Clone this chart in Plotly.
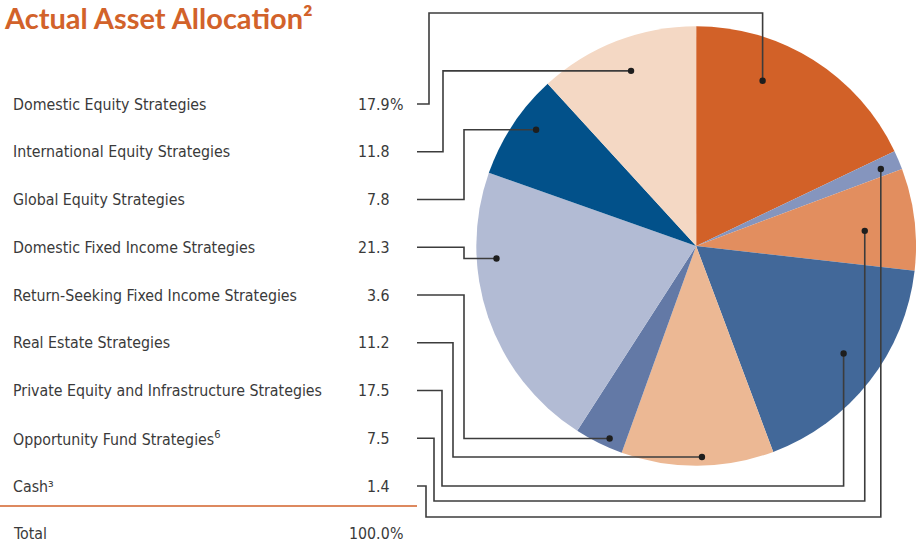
import math
import plotly.graph_objects as go

# ---------------- data ----------------
categories = [
    "Domestic Equity Strategies",
    "International Equity Strategies",
    "Global Equity Strategies",
    "Domestic Fixed Income Strategies",
    "Return-Seeking Fixed Income Strategies",
    "Real Estate Strategies",
    "Private Equity and Infrastructure Strategies",
    "Opportunity Fund Strategies<sup>6</sup>",
    "Cash³",
]
values = [17.9, 11.8, 7.8, 21.3, 3.6, 11.2, 17.5, 7.5, 1.4]
value_labels = ["17.9", "11.8", "7.8", "21.3", "3.6", "11.2", "17.5", "7.5", "1.4"]
total_label = "100.0"
title_text = "Actual Asset Allocation²"

# ---------------- styles ----------------
colors = ["#D26128", "#F4D8C4", "#02518A", "#B2BBD4", "#6379A6",
          "#ECB894", "#426899", "#E28E5F", "#8595BE"]
pie_order = [0, 8, 7, 6, 5, 4, 3, 2, 1]   # clockwise order of slices from 12 o'clock

W, H = 916, 544
TXT_FONT = "DejaVu Sans Condensed, Liberation Sans Narrow, sans-serif"
TXT_SIZE = 15.8
TXT_COLOR = "#3a3a3a"
ORANGE = "#D2622A"
LINE_COLOR = "#3c3c3c"

# pie placement (paper domain)
dom_x = [0.52, 1.0]
cy_px = 246
r_px = (dom_x[1] - dom_x[0]) * W / 2
cx_px = (dom_x[0] + dom_x[1]) / 2 * W
dom_y = [1 - (cy_px + r_px) / H, 1 - (cy_px - r_px) / H]

# table layout
label_x = 12
num_right_x = 391
row0_y = 104
row_step = 47.75
line_start_x = 417

# connector routing (table order)
elbow_x = [429, 443, 464, 464, 464, 453, 442, 434, 426]
channel_y = [13, None, None, None, None, None, 486, 501, 517]
dot_t = [0.34, 0.52, 0.59, 0.70, 0.34, 0.47, 0.47, 0.57, 0.58]
dot_rf = [0.81, 0.85, 0.90, 0.91, 0.96, 0.96, 0.83, 0.77, 0.91]


def px(x):
    return x / W


def py(y):
    return 1 - y / H


def txt(x, y, text, anchor, font):
    return dict(x=px(x), y=py(y), xref="paper", yref="paper", xanchor=anchor,
                yanchor="middle", text=text, showarrow=False, borderpad=0, font=font)


body_font = dict(family=TXT_FONT, size=TXT_SIZE, color=TXT_COLOR)

fig = go.Figure()
fig.add_trace(go.Pie(
    labels=[categories[i] for i in pie_order],
    values=[values[i] for i in pie_order],
    marker=dict(colors=[colors[i] for i in pie_order], line=dict(width=0)),
    sort=False,
    direction="clockwise",
    rotation=0,
    textinfo="none",
    hoverinfo="label+value",
    showlegend=False,
    domain=dict(x=dom_x, y=dom_y),
))

# slice angles
total = sum(values)
start_angle = {}
span_angle = {}
acc = 0.0
for i in pie_order:
    start_angle[i] = acc
    span_angle[i] = values[i] / total * 360
    acc += span_angle[i]

annotations = []
shapes = []

annotations.append(txt(3, 18, title_text, "left",
                       dict(family="Lato, sans-serif", size=29, color=ORANGE, weight="bold")))

for k, name in enumerate(categories):
    ry = row0_y + k * row_step
    annotations.append(txt(label_x, ry, name, "left", body_font))
    annotations.append(txt(num_right_x, ry, value_labels[k], "right", body_font))
    if k == 0:
        annotations.append(txt(num_right_x - 2, ry, "%", "left", body_font))

    # dot position from slice geometry
    ang = math.radians(start_angle[k] + dot_t[k] * span_angle[k])
    dx = cx_px + dot_rf[k] * r_px * math.sin(ang)
    dy = cy_px - dot_rf[k] * r_px * math.cos(ang)

    pts = [(line_start_x, ry), (elbow_x[k], ry)]
    if channel_y[k] is None:
        pts += [(elbow_x[k], dy), (dx, dy)]
    else:
        pts += [(elbow_x[k], channel_y[k]), (dx, channel_y[k]), (dx, dy)]
    path = "M " + " L ".join(f"{px(a):.5f},{py(b):.5f}" for a, b in pts)
    shapes.append(dict(type="path", path=path, xref="paper", yref="paper",
                       line=dict(color=LINE_COLOR, width=1.6)))
    rr = 3.2
    shapes.append(dict(type="circle", xref="paper", yref="paper",
                       x0=px(dx - rr), x1=px(dx + rr), y0=py(dy + rr), y1=py(dy - rr),
                       fillcolor="#1e1e1e", line=dict(width=0)))

# total row
ty = row0_y + len(categories) * row_step
annotations.append(txt(label_x, ty, "Total", "left", body_font))
annotations.append(txt(num_right_x, ty, total_label, "right", body_font))
annotations.append(txt(num_right_x - 2, ty, "%", "left", body_font))
shapes.append(dict(type="line", xref="paper", yref="paper",
                   x0=px(0), x1=px(line_start_x), y0=py(506), y1=py(506),
                   line=dict(color=ORANGE, width=1.6)))

fig.update_layout(
    width=W, height=H,
    margin=dict(l=0, r=0, t=0, b=0),
    paper_bgcolor="white", plot_bgcolor="white",
    annotations=annotations, shapes=shapes,
)

fig.write_html(
    "out.html",
    config={"displayModeBar": False},
    post_script="document.body.style.margin='0';document.body.style.overflow='hidden';",
)
